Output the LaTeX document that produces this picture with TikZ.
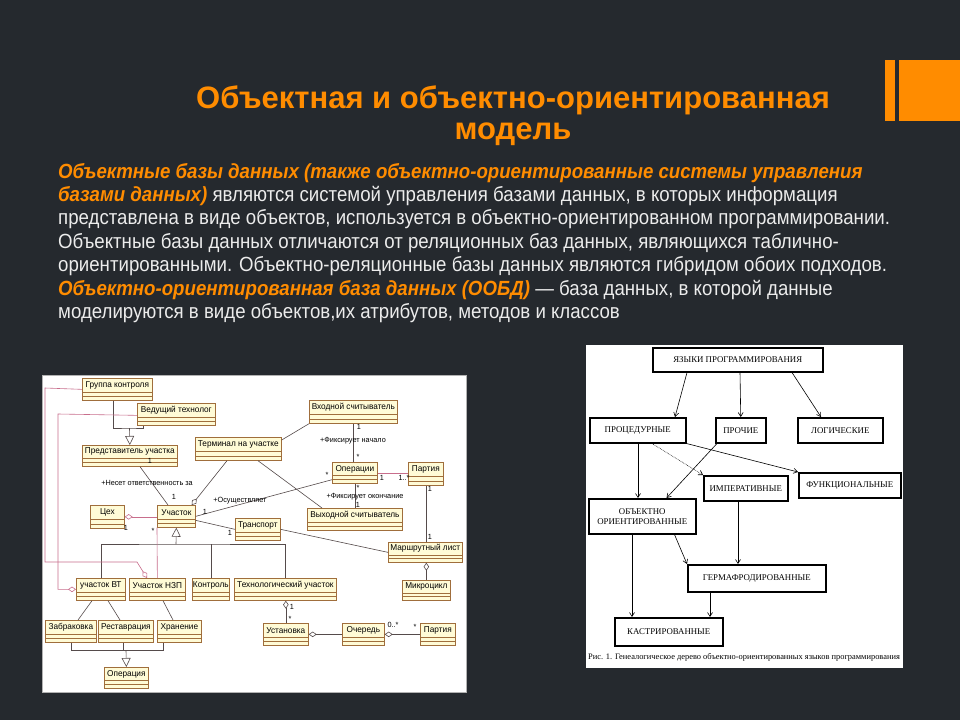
\documentclass[tikz,border=0pt]{standalone}
\usepackage{fontspec}
\setmainfont{Liberation Sans}
\newfontfamily\bodyf[FakeStretch=0.91]{Liberation Sans}
\newfontfamily\titlef{Liberation Sans}
\newfontfamily\umlf[FakeStretch=0.97]{Liberation Sans}
\newfontfamily\serf{Liberation Serif}
\usetikzlibrary{arrows.meta,calc}
\definecolor{bg}{RGB}{37,41,46}
\definecolor{org}{RGB}{255,140,0}
\definecolor{txt}{RGB}{236,236,236}
\definecolor{umlfill}{RGB}{255,251,214}
\definecolor{umldraw}{RGB}{160,110,60}
\definecolor{pinkl}{RGB}{200,110,140}
\definecolor{darkl}{RGB}{85,75,75}
\tikzset{
  umlbox/.style={draw=umldraw, fill=umlfill, line width=0.7pt, inner sep=0pt},
  umltext/.style={font=\umlf\fontsize{8.5}{9}\selectfont, text=black, inner sep=0pt},
  multi/.style={font=\umlf\fontsize{7.5}{8}\selectfont, text=black, inner sep=0pt},
  pinkc/.style={draw=pinkl, line width=0.6pt},
  darkc/.style={draw=darkl, line width=0.6pt},
  gentip/.style={-{Triangle[open,length=9pt,width=9pt]}},
  aggtip/.style={-{Diamond[open,length=8pt,width=5.5pt]}},
  rbox/.style={draw=black, fill=white, line width=1.5pt, inner sep=0pt},
  rtext/.style={font=\serf\fontsize{8.8}{10}\selectfont, text=black, inner sep=0pt, align=center},
  rarr/.style={draw=black, line width=0.6pt, -{Straight Barb[length=4pt,width=5pt]}},
  bodyline/.style={anchor=base west, inner sep=0pt, text=txt, font=\bodyf\fontsize{20.5}{23}\selectfont},
  titletext/.style={anchor=base, inner sep=0pt, text=org, font=\titlef\bfseries\fontsize{31}{34}\selectfont}
}
\newcommand{\umlc}[6]{%
  \pgfmathsetmacro{\uw}{#4-#2}\pgfmathsetmacro{\uh}{#5-#3}%
  \node[umlbox, minimum width=\uw pt, minimum height=\uh pt, anchor=north west] (#1) at (#2,#3) {};%
  \draw[umldraw, line width=0.6pt] ($(#1.north west)!0.62!(#1.south west)$) -- ($(#1.north east)!0.62!(#1.south east)$);%
  \draw[umldraw, line width=0.6pt] ($(#1.north west)!0.81!(#1.south west)$) -- ($(#1.north east)!0.81!(#1.south east)$);%
  \node[umltext] at ($(#1.north)!0.32!(#1.south)$) {#6};%
}
\newcommand{\rbx}[6]{%
  \pgfmathsetmacro{\uw}{#4-#2}\pgfmathsetmacro{\uh}{#5-#3}%
  \node[rbox, minimum width=\uw pt, minimum height=\uh pt, anchor=north west] (#1) at (#2,#3) {};%
  \node[rtext] at (#1.center) {#6};%
}
\newcommand{\ora}[1]{{\color{org}\bfseries\itshape #1}}
\begin{document}
\begin{tikzpicture}[x=1pt,y=-1pt]
\useasboundingbox (0,0) rectangle (960,720);
\fill[bg] (0,0) rectangle (960,720);
% orange bars
\fill[org] (885,60) rectangle (895,121);
\fill[org] (899,60) rectangle (960,121);
% title
\node[titletext] (t1) at (513,108) {Объектная и объектно-ориентированная};
\node[titletext] (t2) at (513,139) {модель};
% body text
\node[bodyline] (b1) at (58,178) {\ora{Объектные базы данных (также объектно-ориентированные системы управления}};
\node[bodyline] (b2) at (58,201.5) {\ora{базами данных)} являются системой управления базами данных, в которых информация};
\node[bodyline] (b3) at (58,224.5) {представлена в виде объектов, используется в объектно-ориентированном программировании.};
\node[bodyline] (b4) at (58,248) {Объектные базы данных отличаются от реляционных баз данных, являющихся таблично-};
\node[bodyline] (b5) at (58,271) {ориентированными. Объектно-реляционные базы данных являются гибридом обоих подходов.};
\node[bodyline] (b6) at (58,295.5) {\ora{Объектно-ориентированная база данных (ООБД)} — база данных, в которой данные};
\node[bodyline] (b7) at (58,318.5) {моделируются в виде объектов,их атрибутов, методов и классов};
% ---------------- left panel ----------------
\fill[white] (42,375) rectangle (466,692);
\draw[gray!60, line width=0.5pt] (42,375) rectangle (466,692);
\umlc{gk}{82}{378}{152}{400}{Группа контроля}
\umlc{ved}{137}{403}{215}{425}{Ведущий технолог}
\umlc{pred}{82}{445}{177}{466}{Представитель участка}
\umlc{term}{195}{437}{281}{460}{Терминал на участке}
\umlc{vhod}{309}{400}{397}{423}{Входной считыватель}
\umlc{op}{332}{462}{377}{483}{Операции}
\umlc{part}{408}{462}{443}{485}{Партия}
\umlc{vyh}{307}{508}{402}{530}{Выходной считыватель}
\umlc{ceh}{90}{505}{124}{528}{Цех}
\umlc{uch}{157}{505}{195}{527}{Участок}
\umlc{trans}{235}{518}{280}{540}{Транспорт}
\umlc{marsh}{388}{542}{462}{562}{Маршрутный лист}
\umlc{vt}{76}{578}{125}{600}{участок ВТ}
\umlc{nzp}{129}{578}{185}{600}{Участок НЗП}
\umlc{kon}{192}{578}{229}{600}{Контроль}
\umlc{tech}{234}{578}{336}{600}{Технологический участок}
\umlc{mikro}{402}{580}{450}{600}{Микроцикл}
\umlc{zab}{45}{620}{96}{642}{Забраковка}
\umlc{rest}{98}{620}{153}{642}{Реставрация}
\umlc{hran}{157}{620}{201}{642}{Хранение}
\umlc{ust}{263}{623}{308}{645}{Установка}
\umlc{och}{342}{623}{384}{645}{Очередь}
\umlc{part2}{420}{623}{455}{645}{Партия}
\umlc{oper}{104}{667}{148}{688}{Операция}
% generalizations
\coordinate (gj1) at (129.5,428);
\draw[darkc] ([xshift=31pt]gk.south west) |- (gj1) -| ([xshift=6pt]ved.south west);
\draw[darkc, gentip] (gj1) -- (pred.north);
\coordinate (gb) at (176,544);
\draw[darkc] (vt.north) |- (gb) -| (tech.north);
\draw[darkc] (kon.north) -- (kon.north |- gb);
\draw[darkc, gentip] (gb) -- (uch.south);
\coordinate (gop) at (126,650);
\draw[darkc] (zab.south) |- (gop) -| ([xshift=6pt]hran.south west);
\draw[darkc] ([xshift=-3pt]rest.south) -- ([xshift=-3pt]rest.south |- gop);
\draw[darkc, gentip] (gop) -- (oper.north);
% pink associations
\draw[pinkc, aggtip] (gk.west) -- (45,388) |- (137,562) -- ([xshift=18pt]nzp.north west);
\draw[pinkc, aggtip] ([yshift=-1pt]ved.west) -- (58,414) |- (vt.west);
\draw[pinkc, aggtip] (uch.west |- ceh.east) -- (ceh.east);
\draw[pinkc] (uch.south west) -- (nzp.north);
\draw[pinkc] (op.east) -- (part.west |- op.east);
% dark associations
\draw[darkc] ([xshift=58pt]pred.south west) -- ([xshift=11pt]uch.north west);
\draw[darkc, aggtip] ([xshift=32pt]term.south west) -- ([xshift=-4pt]uch.north east);
\draw[darkc] ([xshift=63pt]term.south west) -- ([xshift=15pt]vyh.north west);
\draw[darkc] ([yshift=-3pt]term.north east) -- (vhod.south west);
\draw[darkc] (vhod.south) -- (vhod.south |- op.north);
\draw[darkc] (op.south) -- (op.south |- vyh.north);
\draw[darkc] (uch.east) -- ([yshift=4pt]op.south west);
\draw[darkc] ([yshift=-4pt]uch.east) -- (trans.west);
\draw[darkc] (trans.east) -- (marsh.west);
\draw[darkc] (part.south) -- (part.south |- marsh.north);
\draw[darkc, aggtip] (mikro.north) -- (mikro.north |- marsh.south);
\draw[darkc, aggtip] (ust.north) -- (ust.north |- tech.south);
\draw[darkc, aggtip] (och.west) -- (ust.east);
\draw[darkc, aggtip] (part2.west) -- (och.east);
\draw[darkc] ([xshift=16pt]vt.south west) -- ([xshift=33pt]zab.north west);
\draw[darkc] ([xshift=32pt]vt.south west) -- ([xshift=22pt]rest.north west);
\draw[darkc] ([xshift=34pt]nzp.south west) -- ([xshift=16pt]hran.north west);
% association labels
\node[multi] (l1) at (147,483) {+Несет ответственность за};
\node[multi] (l2) at (353,441) {+Фиксирует начало};
\node[multi] (l3) at (365,497) {+Фиксирует окончание};
\node[multi] (l4) at (240,501) {+Осуществляет};
\node[multi] (m1) at (150,461) {1};
\node[multi] (m2) at (174,497) {1};
\node[multi] (m3) at (126,528) {1};
\node[multi] (m4) at (205,512) {1};
\node[multi] (m5) at (230,533) {1};
\node[multi] (m6) at (327,475) {*};
\node[multi] (m7) at (359,427) {1};
\node[multi] (m8) at (358,457) {*};
\node[multi] (m9) at (358,488) {*};
\node[multi] (m10) at (358,505) {1};
\node[multi] (m11) at (382,478) {1};
\node[multi] (m12) at (404,478) {1..*};
\node[multi] (m13) at (430,489) {1};
\node[multi] (m14) at (430,537) {1};
\node[multi] (m15) at (292,607) {1};
\node[multi] (m16) at (290,619) {*};
\node[multi] (m17) at (393,625) {0..*};
\node[multi] (m18) at (415,627) {*};
\node[multi] (m19) at (153,531) {*};
% ---------------- right panel ----------------
\fill[white] (586,345) rectangle (903,668);
\rbx{lang}{652}{347}{822}{371}{ЯЗЫКИ ПРОГРАММИРОВАНИЯ}
\rbx{proc}{589}{417}{685}{442}{ПРОЦЕДУРНЫЕ}
\rbx{proch}{715}{417}{765}{442}{ПРОЧИЕ}
\rbx{logi}{797}{417}{882}{442}{ЛОГИЧЕСКИЕ}
\rbx{imp}{703}{475}{787}{500}{ИМПЕРАТИВНЫЕ}
\rbx{func}{798}{472}{900}{497}{ФУНКЦИОНАЛЬНЫЕ}
\rbx{oop}{588}{498}{695}{533}{ОБЪЕКТНО\\ОРИЕНТИРОВАННЫЕ}
\rbx{herm}{687}{564}{825}{591}{ГЕРМАФРОДИРОВАННЫЕ}
\rbx{kas}{614}{617}{722}{645}{КАСТРИРОВАННЫЕ}
\draw[rarr] ([xshift=35pt]lang.south west) -- ([xshift=86pt]proc.north west);
\draw[rarr] ([xshift=88pt]lang.south west) -- (proch.north);
\draw[rarr] ([xshift=140pt]lang.south west) -- ([xshift=24pt]logi.north west);
\draw[rarr] ([xshift=49pt]proc.south west) -- ([xshift=50pt]oop.north west);
\draw[rarr, densely dotted] ([xshift=63pt]proc.south west) -- (imp.north west);
\draw[rarr] (proc.south east) -- (func.north west);
\draw[rarr] ([xshift=2pt]proch.south west) -- ([xshift=-30pt]oop.north east);
\draw[rarr] ([xshift=35pt]imp.south west) -- ([xshift=51pt]herm.north west);
\draw[rarr] ([xshift=-22pt]oop.south east) -- (herm.north west);
\draw[rarr] ([xshift=44pt]oop.south west) -- ([xshift=18pt]kas.north west);
\draw[rarr] ([xshift=23pt]herm.south west) -- ([xshift=96pt]kas.north west);
\node[anchor=center, inner sep=0pt, font=\serf\fontsize{8.4}{9}\selectfont, text=black] (cap) at (744,657) {Рис. 1. Генеалогическое дерево объектно-ориентированных языков программирования};
\end{tikzpicture}
\end{document}
